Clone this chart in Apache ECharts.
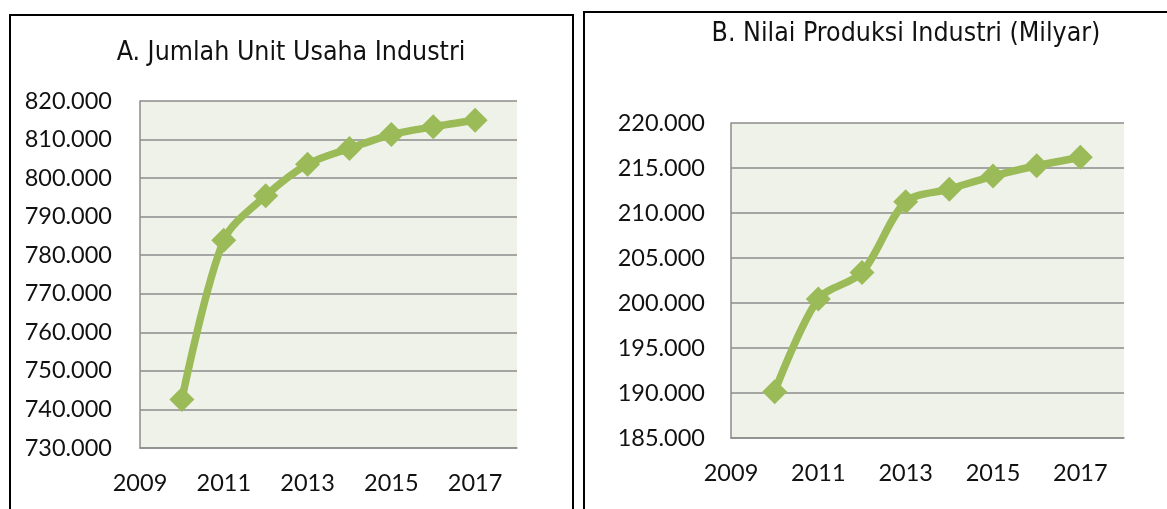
<!DOCTYPE html>
<html>
<head>
<meta charset="utf-8">
<script src="https://cdn.jsdelivr.net/npm/echarts@6/dist/echarts.min.js"></script>
<style>
html,body{margin:0;padding:0;background:#fff;}
#c{width:1167px;height:509px;}
</style>
</head>
<body>
<div id="c"></div>
<script>
// ---- data ----
const years = [2010, 2011, 2012, 2013, 2014, 2015, 2016, 2017];
const unitUsaha = [742600, 783900, 795400, 803600, 807700, 811300, 813300, 815000];
const nilaiProduksi = [190150, 200450, 203400, 211250, 212650, 214100, 215250, 216200];
const titleA = 'A. Jumlah Unit Usaha Industri';
const titleB = 'B. Nilai Produksi Industri (Milyar)';
const xRange = [2009, 2018, 2];
const yRangeA = [730000, 820000, 10000];
const yRangeB = [185000, 220000, 5000];

// ---- style ----
const green = '#9BBB59';
const gridColor = '#8C8C8C';
const plotBg = '#EEF2E8';
const titleFont = '"DejaVu Sans Condensed", "DejaVu Sans", sans-serif';
const labelFont = 'Lato, "Open Sans", sans-serif';

function fmt(v) {
  return String(Math.round(v)).replace(/\B(?=(\d{3})+(?!\d))/g, '.');
}

function xAxis(gi) {
  return {
    type: 'value', gridIndex: gi, min: xRange[0], max: xRange[1], interval: xRange[2],
    axisLine: {show: true, lineStyle: {color: gridColor, width: 1.5}},
    axisTick: {show: false},
    splitLine: {show: false},
    axisLabel: {showMaxLabel: false, margin: 24, color: '#111', fontFamily: labelFont, fontSize: 23.5, lineHeight: 23, formatter: v => String(v)}
  };
}
function yAxis(gi, r, margin) {
  return {
    type: 'value', gridIndex: gi, min: r[0], max: r[1], interval: r[2],
    axisLine: {show: true, lineStyle: {color: gridColor, width: 1.5}},
    axisTick: {show: false},
    splitLine: {show: true, lineStyle: {color: gridColor, width: 1.5}},
    axisLabel: {margin: margin, color: '#111', fontFamily: labelFont, fontSize: 23.5, formatter: fmt}
  };
}
function series(gi, vals) {
  return {
    type: 'line', xAxisIndex: gi, yAxisIndex: gi,
    data: years.map((y, i) => [y, vals[i]]),
    smooth: 0.3,
    symbol: 'diamond', symbolSize: 25,
    lineStyle: {color: green, width: 7.5},
    itemStyle: {color: green},
    z: 5
  };
}

const chart = echarts.init(document.getElementById('c'), null, {renderer: 'canvas'});
chart.setOption({
  animation: false,
  backgroundColor: '#fff',
  title: [
    {text: titleA, left: 286, top: 48, textAlign: 'center', textVerticalAlign: 'middle',
     textStyle: {fontFamily: titleFont, fontWeight: 'normal', fontSize: 26.5, color: '#111'}},
    {text: titleB, left: 901, top: 29, textAlign: 'center', textVerticalAlign: 'middle',
     textStyle: {fontFamily: titleFont, fontWeight: 'normal', fontSize: 26.5, color: '#111'}}
  ],
  graphic: [
    {type: 'rect', shape: {x: 10, y: 15, width: 563, height: 520}, style: {fill: null, stroke: '#000', lineWidth: 2}, z: 0},
    {type: 'rect', shape: {x: 584, y: 12, width: 620, height: 520}, style: {fill: null, stroke: '#000', lineWidth: 2}, z: 0}
  ],
  grid: [
    {left: 140, top: 101, width: 377, height: 347, show: true, backgroundColor: plotBg, borderWidth: 0},
    {left: 731, top: 123, width: 393, height: 315, show: true, backgroundColor: plotBg, borderWidth: 0}
  ],
  xAxis: [xAxis(0), xAxis(1)],
  yAxis: [yAxis(0, yRangeA, 28), yAxis(1, yRangeB, 26)],
  series: [series(0, unitUsaha), series(1, nilaiProduksi)]
});
</script>
</body>
</html>
